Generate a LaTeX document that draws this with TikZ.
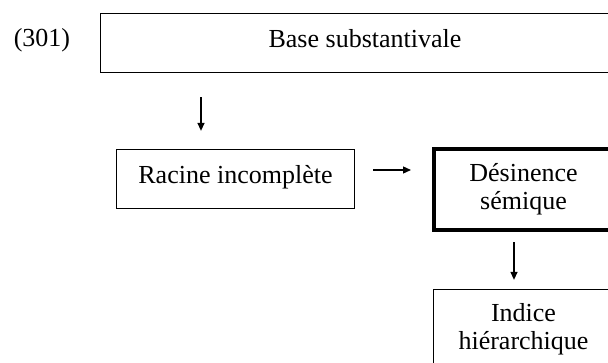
\documentclass[tikz,border=0pt]{standalone}
\usepackage{fontspec}
\setmainfont{Liberation Serif}
\usetikzlibrary{arrows.meta,calc}
\tikzset{>={Triangle[length=8pt,width=7pt]},every node/.style={font=\fontsize{26}{28}\selectfont},box/.style={draw,line width=1.3pt,align=center,inner sep=0pt},linebox/.style={box,text height=19pt,text depth=10pt},boldbox/.style={box,line width=4pt},flow/.style={line width=1.3pt,->}}

\begin{document}
\begin{tikzpicture}[x=1pt,y=-1pt]
\clip (0,0) rectangle (608,362);
\node[anchor=base] (num) at (42,46) {(301)};
\node[linebox,minimum width=529pt,minimum height=59pt] (base) at (365,43) {Base substantivale};
\node[linebox,minimum width=238pt,minimum height=59pt] (racine) at (235.5,179) {Racine incomplète};
\node[boldbox,minimum width=179pt,minimum height=81pt] (desin) at (523.5,189.5) {Désinence\\sémique};
\node[box,minimum width=180pt,minimum height=80pt] (indice) at (523.5,329.5) {Indice\\hiérarchique};
\coordinate (a1) at (201,0);\coordinate (a2) at (0,170);\coordinate (a3) at (514,0);
\draw[flow,shorten <=24pt,shorten >=18pt] (base.south -| a1) -- (racine.north -| a1);
\draw[flow,shorten <=18pt,shorten >=21pt] (racine.east |- a2) -- (desin.west |- a2);
\draw[flow,shorten <=10pt,shorten >=9pt] (desin.south -| a3) -- (indice.north -| a3);
\end{tikzpicture}
\end{document}
